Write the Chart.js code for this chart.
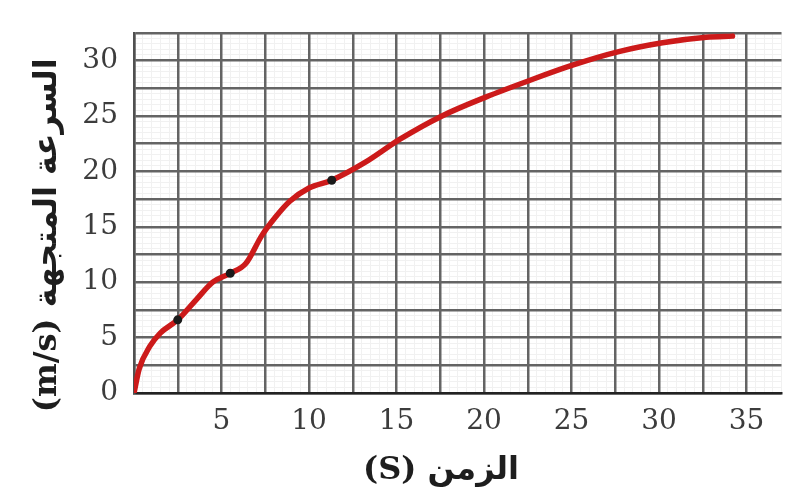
<!DOCTYPE html>
<html>
<head>
<meta charset="utf-8">
<script src="https://cdn.jsdelivr.net/npm/chart.js@4.4.1/dist/chart.umd.min.js"></script>
<style>
  html, body { margin: 0; padding: 0; background: #fff; }
  #wrap { width: 786px; height: 500px; }
</style>
</head>
<body>
<div id="wrap"><canvas id="chart"></canvas></div>
<script>
// time (s) and velocity (m/s)
const timeValues = [0, 0.3, 0.9, 1.5, 2.5, 3.6, 4.5, 5.5, 6.4, 7.3, 8.1, 8.9, 10.0, 11.3, 13.2, 15.2, 17.6, 20.1, 22.6, 25.1, 27.7, 30.2, 32.7, 34.2];
const speedValues = [0, 2.2, 4.2, 5.4, 6.6, 8.5, 10.0, 10.8, 11.7, 14.2, 15.9, 17.3, 18.5, 19.2, 20.8, 22.9, 25.0, 26.7, 28.2, 29.6, 30.8, 31.6, 32.1, 32.2];

// the three black dots on the curve
const markerTimes = [2.5, 5.5, 11.3];
const markerSpeeds = [6.6, 10.8, 19.2];

const xTitle = "(S) الزمن   ";
const yTitle = "(m/s) السرعة المتجهة    ";

const tickFont = { family: "'DejaVu Serif', 'Liberation Serif', serif", size: 28 };
const titleFont = { family: "'DejaVu Serif', 'DejaVu Sans', sans-serif", size: 32, weight: "bold" };

const curve = timeValues.map((t, i) => ({ x: t, y: speedValues[i] }));
const dots = markerTimes.map((t, i) => ({ x: t, y: markerSpeeds[i] }));

// faint sub-grid, skipped where a main line sits
const minorColor = (ctx) => (ctx.tick.value % 2.5 === 0 ? "rgba(0,0,0,0)" : "#f1f1f1");

new Chart(document.getElementById("chart"), {
  type: "scatter",
  data: {
    datasets: [
      {
        data: dots,
        showLine: false,
        pointRadius: 4.5,
        pointBackgroundColor: "#1a1a1a",
        pointBorderWidth: 0,
      },
      {
        data: curve,
        showLine: true,
        borderColor: "#cc1a1a",
        borderWidth: 5.5,
        pointRadius: 0,
        cubicInterpolationMode: "monotone",
        borderCapStyle: "round",
      },
    ],
  },
  options: {
    responsive: true,
    maintainAspectRatio: false,
    animation: false,
    layout: { padding: { top: 12, left: 0, right: 0, bottom: 0 } },
    plugins: { legend: { display: false }, tooltip: { enabled: false } },
    scales: {
      xMinor: {
        type: "linear",
        position: "bottom",
        min: 0,
        max: 37,
        grid: { color: minorColor, lineWidth: 1, drawTicks: false, z: -1 },
        border: { display: false },
        ticks: { display: false, stepSize: 0.5, includeBounds: false },
        afterFit: (scale) => { scale.height = 0; },
      },
      yMinor: {
        type: "linear",
        position: "left",
        min: 0,
        max: 32.5,
        grid: { color: minorColor, lineWidth: 1, drawTicks: false, z: -1 },
        border: { display: false },
        ticks: { display: false, stepSize: 0.5, includeBounds: false },
        afterFit: (scale) => { scale.width = 0; },
      },
      x: {
        type: "linear",
        position: "bottom",
        min: 0,
        max: 37,
        grid: { color: "#646464", lineWidth: 2.5, drawTicks: false },
        border: { color: "#222", width: 2.5 },
        ticks: {
          stepSize: 2.5,
          includeBounds: false,
          autoSkip: false,
          maxRotation: 0,
          padding: 12,
          color: "#3c3c3c",
          font: tickFont,
          callback: (v) => (v % 5 === 0 && v !== 0 ? v : ""),
        },
        title: {
          display: true,
          text: xTitle,
          color: "#1e1e1e",
          font: titleFont,
          padding: { top: 10, bottom: 10 },
        },
        afterFit: (scale) => { scale.height = 107; },
      },
      y: {
        type: "linear",
        position: "left",
        min: 0,
        max: 32.5,
        grid: { color: "#646464", lineWidth: 2.5, drawTicks: false },
        border: { color: "#505050", width: 2.5 },
        ticks: {
          stepSize: 2.5,
          includeBounds: false,
          autoSkip: false,
          padding: 16,
          color: "#3c3c3c",
          font: tickFont,
          callback: (v) => (v % 5 === 0 ? v : ""),
        },
        title: {
          display: true,
          text: yTitle,
          color: "#1e1e1e",
          font: titleFont,
          padding: { top: 28, bottom: 0 },
        },
        afterFit: (scale) => { scale.width = 134; },
      },
    },
  },
});
</script>
</body>
</html>
